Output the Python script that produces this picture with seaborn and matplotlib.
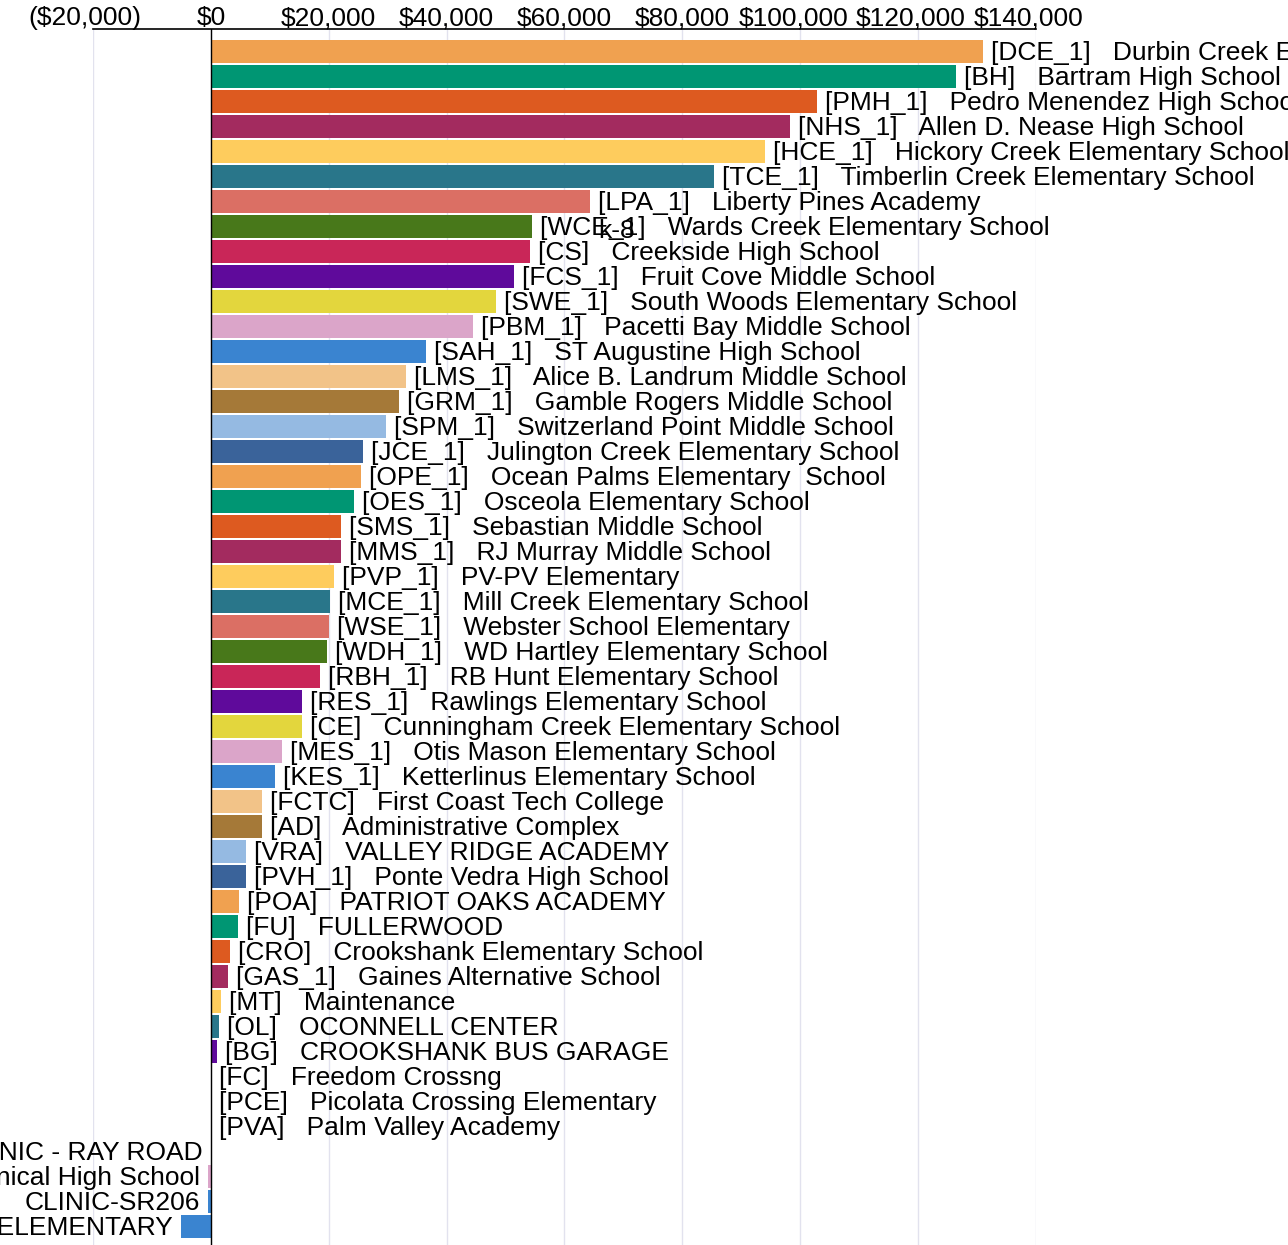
import matplotlib
matplotlib.use("Agg")
import matplotlib.pyplot as plt
import matplotlib.transforms as mtransforms
import seaborn as sns
import pandas as pd
from matplotlib.ticker import FuncFormatter, FixedLocator

# ---------------- data ----------------
codes = ["DCE_1", "BH", "PMH_1", "NHS_1", "HCE_1", "TCE_1", "LPA_1", "WCE_1", "CS",
         "FCS_1", "SWE_1", "PBM_1", "SAH_1", "LMS_1", "GRM_1", "SPM_1", "JCE_1",
         "OPE_1", "OES_1", "SMS_1", "MMS_1", "PVP_1", "MCE_1", "WSE_1", "WDH_1",
         "RBH_1", "RES_1", "CE", "MES_1", "KES_1", "FCTC", "AD", "VRA", "PVH_1",
         "POA", "FU", "CRO", "GAS_1", "MT", "OL", "BG", "FC", "PCE", "PVA",
         "CRR", "FCTHS", "", "TLE"]
names = ["Durbin Creek Elementary School", "Bartram High School", "Pedro Menendez High School",
         "Allen D. Nease High School", "Hickory Creek Elementary School",
         "Timberlin Creek Elementary School", "Liberty Pines Academy",
         "Wards Creek Elementary School", "Creekside High School", "Fruit Cove Middle School",
         "South Woods Elementary School", "Pacetti Bay Middle School", "ST Augustine High School",
         "Alice B. Landrum Middle School", "Gamble Rogers Middle School",
         "Switzerland Point Middle School", "Julington Creek Elementary School",
         "Ocean Palms Elementary  School", "Osceola Elementary School", "Sebastian Middle School",
         "RJ Murray Middle School", "PV-PV Elementary", "Mill Creek Elementary School",
         "Webster School Elementary", "WD Hartley Elementary School", "RB Hunt Elementary School",
         "Rawlings Elementary School", "Cunningham Creek Elementary School",
         "Otis Mason Elementary School", "Ketterlinus Elementary School", "First Coast Tech College",
         "Administrative Complex", "VALLEY RIDGE ACADEMY", "Ponte Vedra High School",
         "PATRIOT OAKS ACADEMY", "FULLERWOOD", "Crookshank Elementary School",
         "Gaines Alternative School", "Maintenance", "OCONNELL CENTER", "CROOKSHANK BUS GARAGE",
         "Freedom Crossng", "Picolata Crossing Elementary", "Palm Valley Academy",
         "CLINIC - RAY ROAD", "First Coast Technical High School", "CLINIC-SR206",
         "TIMBERLIN LAKES ELEMENTARY"]
values = [131000, 126400, 102800, 98250, 94000, 85350, 64300, 54470, 54130,
          51400, 48360, 44460, 36490, 33090, 31900, 29700, 25800,
          25450, 24270, 22060, 22000, 20870, 20190, 20020, 19680,
          18500, 15440, 15400, 12050, 10860, 8650, 8600, 5940, 5900,
          4750, 4580, 3220, 2880, 1700, 1360, 1020, 0, 0, 0,
          -50, -500, -500, -5100]
note_code = "WCE_1"
note_text = "k-8"
x_ticks = [-20000, 0, 20000, 40000, 60000, 80000, 100000, 120000, 140000]

palette_cycle = ["#F0A150", "#009673", "#DD5A20", "#A32B5F", "#FECC5D", "#29768A",
                 "#DB6F64", "#48781A", "#C92658", "#5F0A9B", "#E3D63D", "#DBA5C9",
                 "#3A84D0", "#F2C388", "#A57938", "#95BAE2", "#3A639A"]
color_index = list(range(17)) + list(range(17)) + [0, 1, 2, 3, 4, 5, 9, 6, 7, 8, 10, 11, 12, 12]

labels = [f"[{c}]   {n}" if c else n for c, n in zip(codes, names)]
colors = [palette_cycle[i] for i in color_index]

# ---------------- plot ----------------
sns.set_theme(style="white")
plt.rcParams["font.family"] = ["Liberation Sans", "DejaVu Sans"]
FS = 19

W, H = 1288, 1245
fig = plt.figure(figsize=(W / 100, H / 100), dpi=100)
x0, x1, ytop = 93, 1036, 29
ax = fig.add_axes([x0 / W, 0, (x1 - x0) / W, (H - ytop) / H])

df = pd.DataFrame({"label": labels, "value": values})
sns.barplot(data=df, x="value", y="label", hue="label", order=labels, hue_order=labels,
            palette=colors, saturation=1, width=0.92, legend=False, ax=ax, zorder=2,
            linewidth=0)

ax.set_xlim(-20000, 140000)
row0 = 51
pitch = 25.0
ax.set_ylim((H - row0) / pitch, -(row0 - ytop) / pitch)

ax.xaxis.tick_top()
ax.xaxis.set_major_locator(FixedLocator(x_ticks))
ax.xaxis.set_major_formatter(FuncFormatter(
    lambda v, p: f"(${abs(v):,.0f})" if v < 0 else f"${v:,.0f}"))
ax.tick_params(axis="x", length=0, pad=-1, labelsize=FS, colors="black")
ax.tick_params(axis="y", left=False, labelleft=False)
ax.set_xlabel("")
ax.set_ylabel("")
ax.grid(axis="x", color="#e2e2ee", linewidth=1.0, zorder=0)
ax.set_axisbelow(True)
for s in ["left", "right", "bottom"]:
    ax.spines[s].set_visible(False)
ax.spines["top"].set_visible(True)
ax.spines["top"].set_color("black")
ax.spines["top"].set_linewidth(1.2)
ax.axvline(0, color="black", linewidth=1.0, zorder=3)

# small horizontal nudges of some tick labels, as in the reference
fig.canvas.draw()
for tv, lab in zip(x_ticks, ax.get_xticklabels()):
    dx = 0
    if tv < 0:
        dx = -8
    elif tv >= 100000:
        dx = -7
    if dx:
        lab.set_transform(lab.get_transform() +
                          mtransforms.ScaledTranslation(dx / 100, 0, fig.dpi_scale_trans))

off = 8 * 72 / 100
dy = -1.2
for i, (lab, v) in enumerate(zip(labels, values)):
    if v >= 0:
        ax.annotate(lab, xy=(v, i), xytext=(off, dy), textcoords="offset points",
                    ha="left", va="center", fontsize=FS, color="black")
    else:
        ax.annotate(lab, xy=(v, i), xytext=(-off, dy), textcoords="offset points",
                    ha="right", va="center", fontsize=FS, color="black")

k = codes.index(note_code)
ax.annotate(note_text, xy=(values[k], k), xytext=(66 * 0.72, -3.5), textcoords="offset points",
            ha="left", va="center", fontsize=FS, color="black")

fig.savefig("out.png", dpi=100)
